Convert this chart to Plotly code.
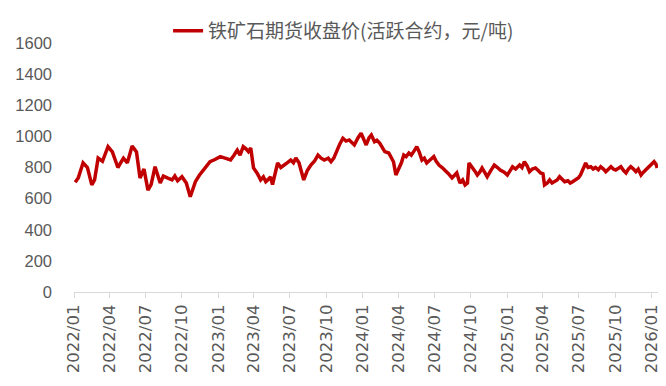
import plotly.graph_objects as go

dates = [
"2022-01-04","2022-01-12","2022-01-24","2022-02-04","2022-02-15","2022-02-22","2022-03-03","2022-03-14","2022-03-28","2022-04-08",
"2022-04-22","2022-05-06","2022-05-16","2022-05-28","2022-06-08","2022-06-17","2022-06-27","2022-07-07","2022-07-15","2022-07-25",
"2022-08-07","2022-08-15","2022-08-25","2022-09-06","2022-09-13","2022-09-20","2022-10-01","2022-10-12","2022-10-22","2022-11-04",
"2022-11-14","2022-11-24","2022-12-02","2022-12-11","2022-12-22","2023-01-06","2023-01-18","2023-02-01","2023-02-10","2023-02-18",
"2023-02-25","2023-03-05","2023-03-12","2023-03-18","2023-03-24","2023-03-31","2023-04-10","2023-04-18","2023-04-25","2023-05-01",
"2023-05-08","2023-05-13","2023-05-18","2023-05-24","2023-05-31","2023-06-08","2023-06-15","2023-06-24","2023-07-03","2023-07-10",
"2023-07-16","2023-07-24","2023-07-29","2023-08-05","2023-08-14","2023-08-23","2023-09-01","2023-09-10","2023-09-18","2023-09-26",
"2023-10-06","2023-10-13","2023-10-20","2023-10-26","2023-11-04","2023-11-12","2023-11-20","2023-11-28","2023-12-04","2023-12-11",
"2023-12-20","2023-12-28","2024-01-04","2024-01-10","2024-01-17","2024-01-23","2024-01-31","2024-02-06","2024-02-13","2024-02-20",
"2024-02-26","2024-03-07","2024-03-13","2024-03-19","2024-03-25","2024-04-01","2024-04-08","2024-04-14","2024-04-20","2024-04-27",
"2024-05-03","2024-05-09","2024-05-17","2024-05-23","2024-05-30","2024-06-05","2024-06-11","2024-06-20","2024-06-29","2024-07-05",
"2024-07-12","2024-07-20","2024-07-27","2024-08-05","2024-08-14","2024-08-20","2024-08-26","2024-09-03","2024-09-10","2024-09-16",
"2024-09-22","2024-09-26","2024-10-04","2024-10-10","2024-10-17","2024-10-23","2024-10-29","2024-11-05","2024-11-11","2024-11-20",
"2024-11-29","2024-12-07","2024-12-14","2024-12-24","2025-01-01","2025-01-08","2025-01-14","2025-01-22","2025-02-01","2025-02-07",
"2025-02-13","2025-02-20","2025-02-26","2025-03-05","2025-03-13","2025-03-20","2025-03-26","2025-04-01","2025-04-05","2025-04-12",
"2025-04-18","2025-04-24","2025-04-30","2025-05-07","2025-05-13","2025-05-20","2025-05-26","2025-06-03","2025-06-09","2025-06-15",
"2025-06-23","2025-06-30","2025-07-05","2025-07-11","2025-07-18","2025-07-24","2025-07-31","2025-08-06","2025-08-12","2025-08-19",
"2025-08-25","2025-09-01","2025-09-07","2025-09-14","2025-09-20","2025-09-26","2025-10-02","2025-10-09","2025-10-15","2025-10-22",
"2025-10-28","2025-11-03","2025-11-09","2025-11-16","2025-11-22","2025-11-28","2025-12-05","2025-12-11","2025-12-17","2025-12-23",
"2025-12-30","2026-01-07","2026-01-12","2026-01-15",
]

prices = [
705,735,830,800,688,720,860,840,934,900,
800,860,830,938,900,733,790,655,690,805,
700,745,733,720,745,715,741,700,612,709,
750,784,810,837,850,870,860,848,880,912,
880,934,920,902,925,797,760,720,740,709,
725,740,690,760,829,800,816,830,848,830,
861,830,784,720,780,816,840,880,860,848,
860,837,860,902,950,988,970,977,960,945,
990,1020,980,945,990,1009,966,975,957,930,
902,893,860,837,752,790,830,880,870,893,
880,902,934,900,848,860,829,850,870,840,
816,800,784,760,733,750,765,700,720,688,
700,829,805,780,752,770,797,770,741,780,
816,800,784,770,752,780,805,790,816,800,
837,810,773,790,797,780,765,760,688,700,
720,700,709,720,741,720,709,715,700,709,
720,735,752,790,829,800,805,790,800,785,
805,790,773,790,805,790,784,795,805,780,
765,790,805,790,773,790,752,770,784,800,
816,837,820,797,
]

tick_vals = ["2022-01-01","2022-04-01","2022-07-01","2022-10-01",
             "2023-01-01","2023-04-01","2023-07-01","2023-10-01",
             "2024-01-01","2024-04-01","2024-07-01","2024-10-01",
             "2025-01-01","2025-04-01","2025-07-01","2025-10-01","2026-01-01"]
tick_text = ["2022/01","2022/04","2022/07","2022/10",
             "2023/01","2023/04","2023/07","2023/10",
             "2024/01","2024/04","2024/07","2024/10",
             "2025/01","2025/04","2025/07","2025/10","2026/01"]
y_ticks = [0, 200, 400, 600, 800, 1000, 1200, 1400, 1600]

series_name = "铁矿石期货收盘价(活跃合约，元/吨)"

fig = go.Figure()
fig.add_trace(go.Scatter(
    x=dates, y=prices, mode="lines", name=series_name,
    line=dict(color="#C00000", width=3.5),
))

# page body has an 8px default margin, so the figure is 8px smaller than the window
fig.update_layout(
    width=658, height=378,
    margin=dict(l=66, r=6, t=35, b=94, autoexpand=False),
    paper_bgcolor="white", plot_bgcolor="white",
    font=dict(family="Liberation Sans, Arial, sans-serif", color="#595959", size=16),
    showlegend=True,
    legend=dict(
        orientation="h", xref="container", yref="container",
        x=0.51, xanchor="center", y=0.99, yanchor="top",
        font=dict(family="Noto Sans CJK SC, sans-serif", size=19, color="#595959"),
        bgcolor="rgba(0,0,0,0)",
    ),
)

fig.update_xaxes(
    type="date",
    range=["2022-01-01", "2026-01-22"],
    tickmode="array", tickvals=tick_vals, ticktext=tick_text,
    tickangle=-90, automargin=False,
    showline=True, linecolor="#D9D9D9", linewidth=1,
    ticks="outside", ticklen=5, tickcolor="#D9D9D9",
    showgrid=False, zeroline=False,
    tickfont=dict(family="DejaVu Sans, sans-serif", size=16.5, color="#595959"),
)
fig.update_yaxes(
    range=[0, 1600], automargin=False,
    tickmode="array", tickvals=y_ticks,
    showline=False, showgrid=False, zeroline=False,
    ticks="", ticklabelstandoff=21,
    tickfont=dict(size=16.5, color="#595959"),
)

fig.write_html("out.html")
